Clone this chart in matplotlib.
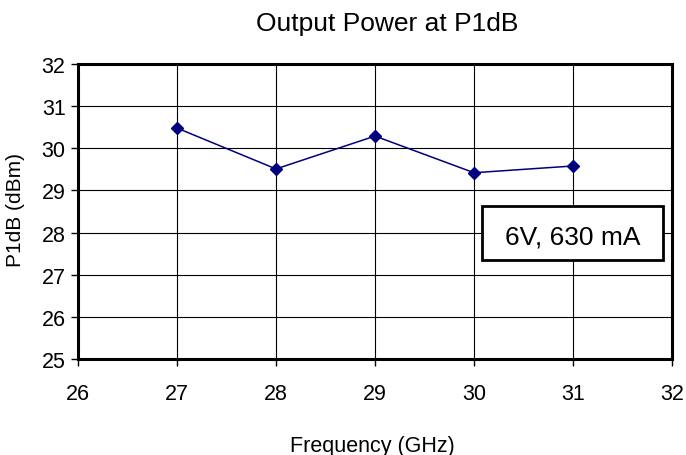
import matplotlib
matplotlib.use("Agg")
import matplotlib.pyplot as plt
from matplotlib.patches import Rectangle

freq = [27, 28, 29, 30, 31]
p1db = [30.48, 29.51, 30.29, 29.42, 29.58]
xticks = [26, 27, 28, 29, 30, 31, 32]
yticks = [25, 26, 27, 28, 29, 30, 31, 32]

plt.rcParams['font.family'] = ['Liberation Sans', 'DejaVu Sans']

W, H = 686, 456
fig = plt.figure(figsize=(W/100, H/100), dpi=100)
ax = fig.add_axes([78/W, 1-360/H, (672-78)/W, (360-65)/H])
ax.plot(freq, p1db, color='#000080', lw=1.1, marker='D', ms=6.5, zorder=3)
ax.set_xlim(26, 32)
ax.set_ylim(25, 32)
ax.set_xticks(xticks)
ax.set_yticks(yticks)
ax.grid(True, color='black', lw=0.8)
ax.set_axisbelow(True)
for s in ax.spines.values():
    s.set_linewidth(2.2)
ax.tick_params(axis='both', direction='out', length=5, width=1, labelsize=15.5)
ax.tick_params(axis='x', pad=12)
ax.tick_params(axis='y', pad=4)

fig.text(387/W, 1-31/H, 'Output Power at P1dB', ha='center', va='baseline', fontsize=19)
fig.text(372/W, 1-452/H, 'Frequency (GHz)', ha='center', va='baseline', fontsize=15.5)
fig.text(15.5/W, 1-210/H, 'P1dB (dBm)', ha='center', va='center', rotation=90, fontsize=15)

ax.add_patch(Rectangle((0.680, 0.3356), 0.305, 0.183, transform=ax.transAxes,
                       fc='white', ec='black', lw=2, zorder=5))
ax.text(0.8325, 0.393, '6V, 630 mA', transform=ax.transAxes, ha='center', va='baseline',
        fontsize=19, zorder=6)
fig.savefig('out.png', dpi=100)
